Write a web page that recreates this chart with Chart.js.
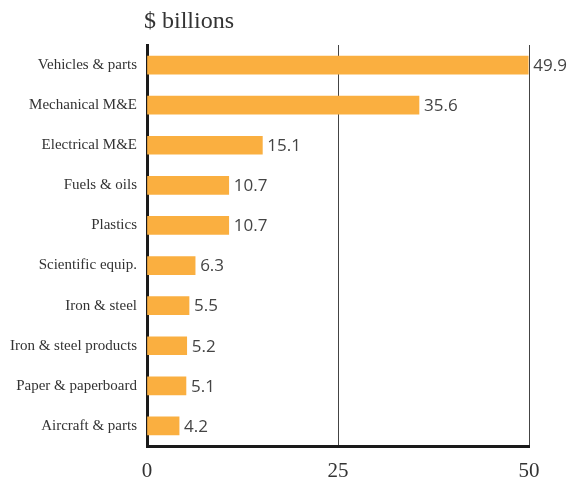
<!DOCTYPE html>
<html><head><meta charset="utf-8">
<script src="https://cdn.jsdelivr.net/npm/chart.js@4"></script>
<style>html,body{margin:0;padding:0;background:#fff}#wrap{width:569px;height:484px}</style>
</head><body><div id="wrap"><canvas id="c" width="569" height="484"></canvas></div>
<script>
const categories = ["Vehicles & parts","Mechanical M&E","Electrical M&E","Fuels & oils","Plastics","Scientific equip.","Iron & steel","Iron & steel products","Paper & paperboard","Aircraft & parts"];
const values = [49.9,35.6,15.1,10.7,10.7,6.3,5.5,5.2,5.1,4.2];
const xTicks = [0,25,50];
const unitTitle = "$ billions";

const valueLabels = {
  id:'valueLabels',
  afterDatasetsDraw(chart){
    const ctx = chart.ctx, meta = chart.getDatasetMeta(0);
    ctx.save();
    ctx.font = '17px "Open Sans"';
    ctx.fillStyle = '#444';
    ctx.textBaseline = 'middle';
    ctx.textAlign = 'left';
    meta.data.forEach((bar,i)=>{ ctx.fillText(values[i].toFixed(1), bar.x+5, bar.y+1); });
    ctx.restore();
  }
};
const unitTitlePlugin = {
  id:'unitTitle',
  afterDraw(chart){
    const ctx = chart.ctx;
    ctx.save();
    ctx.font = '24px "Liberation Serif"';
    ctx.fillStyle = '#333';
    ctx.textBaseline = 'alphabetic';
    ctx.textAlign = 'left';
    ctx.fillText(unitTitle, chart.chartArea.left-3, chart.chartArea.top-17);
    ctx.restore();
  }
};

new Chart(document.getElementById('c'),{
  type:'bar',
  data:{labels:categories,datasets:[{data:values,backgroundColor:'#FAAF40',borderWidth:0,barThickness:18}]},
  options:{
    indexAxis:'y',
    responsive:false,
    animation:false,
    layout:{padding:{top:45,right:40,bottom:0,left:0}},
    plugins:{legend:{display:false},tooltip:{enabled:false}},
    scales:{
      x:{
        min:0,max:50,
        afterBuildTicks(s){ s.ticks = xTicks.map(v=>({value:v})); },
        afterFit(s){ s.height = 38; },
        grid:{drawTicks:false,color:(c)=>c.tick && c.tick.value===0?'rgba(0,0,0,0)':'#444',lineWidth:1},
        border:{display:true,color:'#1a1a1a',width:3},
        ticks:{font:{family:'"Liberation Serif"',size:21},color:'#333',padding:13,maxRotation:0}
      },
      y:{
        afterFit(s){ s.width = 147; },
        grid:{display:false,drawTicks:false},
        border:{display:true,color:'#1a1a1a',width:3},
        ticks:{font:{family:'"Liberation Serif"',size:15},color:'#333',padding:10}
      }
    }
  },
  plugins:[valueLabels,unitTitlePlugin]
});
</script></body></html>
